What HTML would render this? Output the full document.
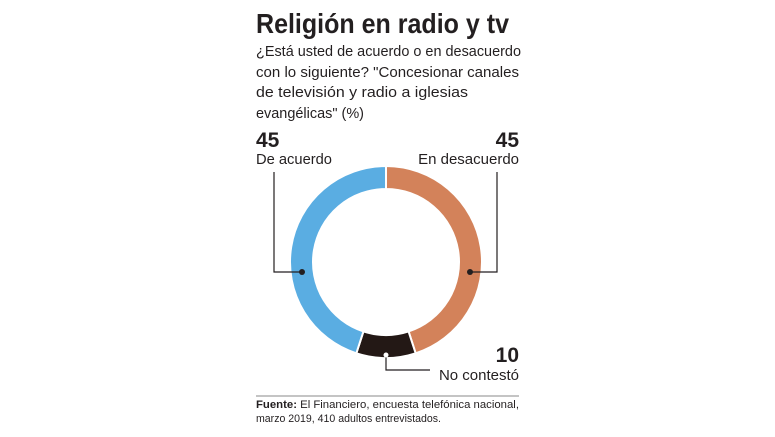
<!DOCTYPE html>
<html><head><meta charset="utf-8"><style>
html,body{margin:0;padding:0;background:#fff;}
svg{display:block;font-family:"Liberation Sans",sans-serif;}
</style></head><body>
<svg width="775" height="437" viewBox="0 0 775 437">
<text x="256" y="33" font-size="28" font-weight="bold" fill="#231f20" textLength="253" lengthAdjust="spacingAndGlyphs">Religión en radio y tv</text>
<g font-size="15" fill="#231f20">
<text x="256" y="56" textLength="265" lengthAdjust="spacingAndGlyphs">¿Está usted de acuerdo o en desacuerdo</text>
<text x="256" y="77" textLength="263" lengthAdjust="spacingAndGlyphs">con lo siguiente? "Concesionar canales</text>
<text x="256" y="97" textLength="212" lengthAdjust="spacingAndGlyphs">de televisión y radio a iglesias</text>
<text x="256" y="118" textLength="108" lengthAdjust="spacingAndGlyphs">evangélicas" (%)</text>
</g>
<g id="arcs"></g>
<g stroke="#231f20" stroke-width="1.2" fill="none">
<polyline points="274,172 274,272 302,272"/>
<polyline points="497,172 497,272 470,272"/>
<polyline points="386,355 386,370 430,370"/>
</g>
<circle cx="302" cy="272" r="3" fill="#231f20"/>
<circle cx="470" cy="272" r="3" fill="#231f20"/>
<circle cx="386" cy="355" r="2.5" fill="#fff"/>
<g fill="#231f20">
<text x="256" y="147" font-size="21" font-weight="bold">45</text>
<text x="256" y="164" font-size="15" textLength="76" lengthAdjust="spacingAndGlyphs">De acuerdo</text>
<text x="519" y="147" font-size="21" font-weight="bold" text-anchor="end">45</text>
<text x="519" y="164" font-size="15" text-anchor="end">En desacuerdo</text>
<text x="519" y="362" font-size="21" font-weight="bold" text-anchor="end">10</text>
<text x="519" y="380" font-size="15" text-anchor="end">No contestó</text>
</g>
<line x1="256" y1="396" x2="519" y2="396" stroke="#888" stroke-width="1"/>
<g font-size="11" fill="#231f20">
<text x="256" y="408" textLength="263" lengthAdjust="spacingAndGlyphs"><tspan font-weight="bold">Fuente:</tspan> El Financiero, encuesta telefónica nacional,</text>
<text x="256" y="422" textLength="185" lengthAdjust="spacingAndGlyphs">marzo 2019, 410 adultos entrevistados.</text>
</g>
</svg>
<script>
const categories = ["En desacuerdo", "No contestó", "De acuerdo"];
const values = [45, 10, 45];
const colors = ["#d3825a", "#231815", "#5aade2"];
const cx = 386, cy = 262, R = 96, r = 73;
const g = document.getElementById('arcs');
const total = values.reduce((a, b) => a + b, 0);
function pt(rad, a) { return [cx + rad * Math.sin(a), cy - rad * Math.cos(a)]; }
let start = 0;
values.forEach((v, i) => {
  const end = start + v / total * 2 * Math.PI;
  const [x1, y1] = pt(R, start), [x2, y2] = pt(R, end), [x3, y3] = pt(r, end), [x4, y4] = pt(r, start);
  const large = end - start > Math.PI ? 1 : 0;
  const p = document.createElementNS('http://www.w3.org/2000/svg', 'path');
  p.setAttribute('d', `M${x1},${y1} A${R},${R} 0 ${large} 1 ${x2},${y2} L${x3},${y3} A${r},${r} 0 ${large} 0 ${x4},${y4} Z`);
  p.setAttribute('fill', colors[i]);
  p.setAttribute('stroke', '#fff');
  p.setAttribute('stroke-width', '2');
  
  
  g.appendChild(p);
  start = end;
});
</script>
</body></html>
